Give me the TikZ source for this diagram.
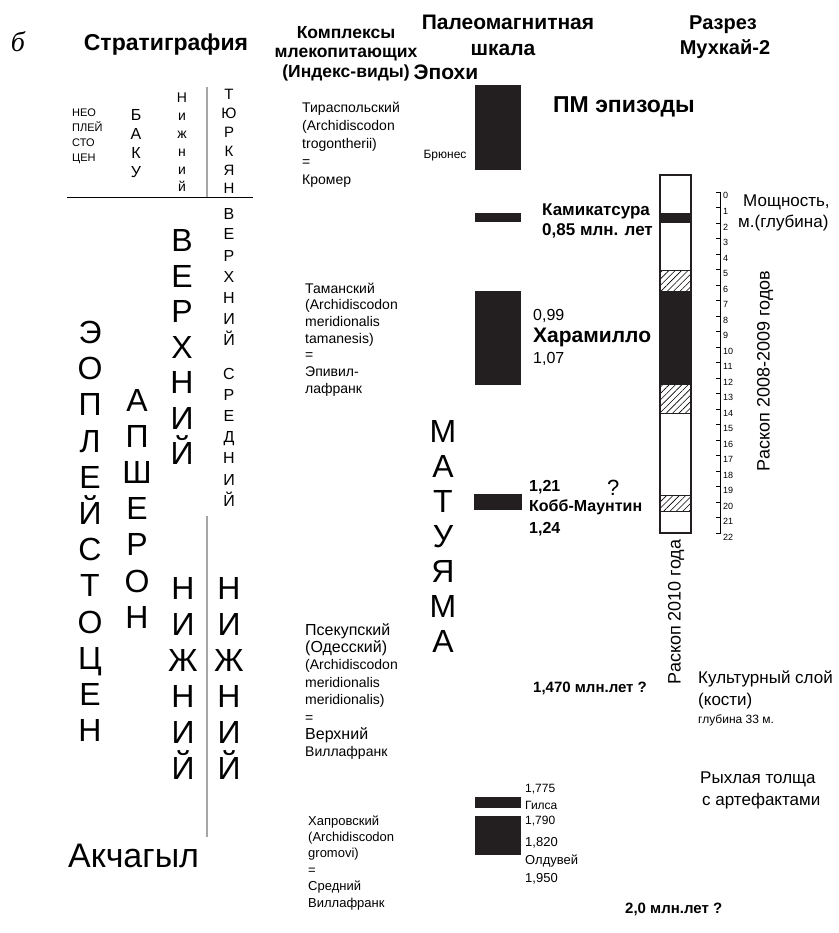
\documentclass[tikz,border=0pt]{standalone}
\usepackage{fontspec}
\setmainfont{Liberation Sans}
\newfontfamily\serifit{Liberation Serif}
\usetikzlibrary{patterns.meta}

\definecolor{magblack}{RGB}{35,31,32}
\newcommand{\fsz}[1]{\fontsize{#1}{#1}\selectfont}

\tikzset{
  txt/.style={inner sep=0pt, anchor=base},
  txtl/.style={inner sep=0pt, anchor=base west},
  head/.style={txt, font=\bfseries\fsz{#1}},
  bigl/.style={txt, font=\fsz{32}},
  smalll/.style={txt, font=\fsz{#1}},
  cmplx/.style={txtl, font=\fsz{14}},
  bar/.style={fill=magblack, draw=none},
  hatch/.style={pattern={Lines[angle=45,distance=4.5pt,line width=0.6pt]}, draw=magblack, line width=0.8pt},
  sep/.style={draw=gray!70, line width=1.2pt}
}

\begin{document}
\begin{tikzpicture}[x=1pt, y=-1pt]
\useasboundingbox[fill=white] (0,0) rectangle (838,933);

% Заголовки
\node[txt, font=\serifit\itshape\fsz{28}] (b) at (18,52) {б};
\node[head=23] (strat) at (166,51) {Стратиграфия};
\node[head=17.5] (kompl1) at (346,39) {Комплексы};
\node[head=17.5] (kompl2) at (346,58) {млекопитающих};
\node[head=17.5] (kompl3) at (346,78) {(Индекс-виды)};
\node[head=21] (paleo1) at (508,30) {Палеомагнитная};
\node[head=21] (paleo2) at (503,56) {шкала};
\node[head=21] (epoch) at (446,80) {Эпохи};
\node[head=20] (razr1) at (723,30) {Разрез};
\node[head=20] (razr2) at (725,55) {Мухкай-2};
\node[txtl, font=\bfseries\fsz{23}] (pm) at (553,113) {ПМ эпизоды};

% Стратиграфия, верхняя часть
\draw[line width=0.8pt] (67,197) -- (253,197);
\draw[sep] (207,87) -- (207,197);
\draw[sep] (207,516) -- (207,837);

\foreach \t [count=\i from 0] in {НЕО,ПЛЕЙ,СТО,ЦЕН}
  \node[txtl, font=\fsz{11}] (neo\i) at (72,117+14.7*\i) {\t};
\foreach \c [count=\i from 0] in {Б,А,К,У}
  \node[smalll=16] (baku\i) at (136,121+19*\i) {\c};
\foreach \c [count=\i from 0] in {Н,и,ж,н,и,й}
  \node[smalll=14] (nizh\i) at (182,103+17.8*\i) {\c};
\foreach \c [count=\i from 0] in {Т,Ю,Р,К,Я,Н}
  \node[smalll=15] (turk\i) at (229,100+18.8*\i) {\c};

% Стратиграфия, нижняя часть
\foreach \c [count=\i from 0] in {Э,О,П,Л,Е,Й,С,Т,О,Ц,Е,Н}
  \node[bigl] (eopl\i) at (90,343.5+36.2*\i) {\c};
\foreach \c [count=\i from 0] in {А,П,Ш,Е,Р,О,Н}
  \node[bigl] (apsh\i) at (137,411.5+36.1*\i) {\c};
\foreach \c [count=\i from 0] in {В,Е,Р,Х,Н,И,Й}
  \node[bigl] (verh\i) at (182,251.5+35.5*\i) {\c};
\foreach \c [count=\i from 0] in {В,Е,Р,Х,Н,И,Й}
  \node[smalll=16] (verhs\i) at (229,219+21*\i) {\c};
\foreach \c [count=\i from 0] in {С,Р,Е,Д,Н,И,Й}
  \node[smalll=16] (sred\i) at (229,379+21.2*\i) {\c};
\foreach \c [count=\i from 0] in {Н,И,Ж,Н,И,Й}
  \node[bigl] (nizhl\i) at (183,599.5+36*\i) {\c};
\foreach \c [count=\i from 0] in {Н,И,Ж,Н,И,Й}
  \node[bigl] (nizhr\i) at (229,599.5+36*\i) {\c};
\node[txtl, font=\fsz{34}] (akch) at (68,867) {Акчагыл};

% Комплексы млекопитающих
\foreach \t [count=\i from 0] in {{Тираспольский},{(Archidiscodon},{trogontherii)},{=},{Кромер}}
  \node[cmplx] (tir\i) at (302,113+18*\i) {\t};
\foreach \t [count=\i from 0] in {{Таманский},{(Archidiscodon},{meridionalis},{tamanesis)},{=},{Эпивил-},{лафранк}}
  \node[cmplx] (tam\i) at (305,293+16.7*\i) {\t};
\foreach \t [count=\i from 0] in {{\fsz{16}Псекупский},{\fsz{16}(Одесский)},{(Archidiscodon},{meridionalis},{meridionalis)},{=},{\fsz{16}Верхний},{Виллафранк}}
  \node[cmplx] (psek\i) at (305,635+17.4*\i) {\t};
\foreach \t [count=\i from 0] in {{Хапровский},{(Archidiscodon},{gromovi)},{=},{Средний},{Виллафранк}}
  \node[cmplx, font=\fsz{13}] (hapr\i) at (308,825+16.4*\i) {\t};

% Палеомагнитная шкала
\fill[bar] (475,85) rectangle (521,170);
\fill[bar] (475,213) rectangle (521,222);
\fill[bar] (475,291) rectangle (521,385);
\fill[bar] (474,494) rectangle (522,510);
\fill[bar] (475,797) rectangle (521,808);
\fill[bar] (475,816) rectangle (521,855);
\node[txt, font=\fsz{12}] (brun) at (445,159) {Брюнес};
\foreach \c [count=\i from 0] in {М,А,Т,У,Я,М,А}
  \node[bigl] (mat\i) at (443,442.5+35*\i) {\c};

% ПМ эпизоды
\node[txtl, font=\bfseries\fsz{17}] (kam1) at (542,216) {Камикатсура};
\node[txtl, font=\bfseries\fsz{17}] (kam2) at (542,236) {0,85 млн. лет};
\node[txtl, font=\fsz{16}] (har1) at (533,320) {0,99};
\node[txtl, font=\bfseries\fsz{21}] (har2) at (533,342) {Харамилло};
\node[txtl, font=\fsz{16}] (har3) at (533,363) {1,07};
\node[txtl, font=\bfseries\fsz{16}] (kobb1) at (529,491) {1,21};
\node[txtl, font=\fsz{22}] (kobbq) at (607,495) {?};
\node[txtl, font=\bfseries\fsz{16}] (kobb2) at (529,511) {Кобб-Маунтин};
\node[txtl, font=\bfseries\fsz{16}] (kobb3) at (529,533) {1,24};
\node[txtl, font=\bfseries\fsz{15}] (age1) at (533,692) {1,470 млн.лет ?};
\node[txtl, font=\fsz{12}] (gil1) at (525,792) {1,775};
\node[txtl, font=\fsz{12}] (gil2) at (525,809) {Гилса};
\node[txtl, font=\fsz{12}] (gil3) at (525,824) {1,790};
\node[txtl, font=\fsz{13}] (old1) at (525,846) {1,820};
\node[txtl, font=\fsz{13}] (old2) at (525,864) {Олдувей};
\node[txtl, font=\fsz{13}] (old3) at (525,882) {1,950};
\node[txtl, font=\bfseries\fsz{15}] (age2) at (625,913) {2,0 млн.лет ?};

% Разрез Мухкай-2
\fill[bar] (660,213) rectangle (691,223);
\fill[bar] (660,291) rectangle (691,384);
\path[hatch] (660,270) rectangle (691,291);
\path[hatch] (660,384) rectangle (691,413);
\path[hatch] (660,495) rectangle (691,511);
\draw[line width=1.4pt, magblack] (660,175) rectangle (691,533);

\draw[line width=0.8pt] (720,192) -- (720,533);
\foreach \k in {0,...,22} {
  \draw[line width=0.6pt] (716,192+15.5*\k) -- (721,192+15.5*\k);
  \node[txtl, font=\fsz{9}] (dep\k) at (723,199+15.5*\k) {\k};
}
\node[txtl, font=\fsz{17}] (mosh1) at (743,207) {Мощность,};
\node[txtl, font=\fsz{17}] (mosh2) at (738,227) {м.(глубина)};

\node[font=\fsz{18}, inner sep=0pt, rotate=90] (rask1) at (765,371) {Раскоп 2008-2009 годов};
\node[font=\fsz{18}, inner sep=0pt, rotate=90] (rask2) at (676,612) {Раскоп 2010 года};

\node[txtl, font=\fsz{17}] (kult1) at (698,683) {Культурный слой};
\node[txtl, font=\fsz{17}] (kult2) at (698,705) {(кости)};
\node[txtl, font=\fsz{12}] (kult3) at (698,723) {глубина 33 м.};
\node[txtl, font=\fsz{17}] (ryh1) at (700,783) {Рыхлая толща};
\node[txtl, font=\fsz{17}] (ryh2) at (702,805) {с артефактами};

\end{tikzpicture}
\end{document}
